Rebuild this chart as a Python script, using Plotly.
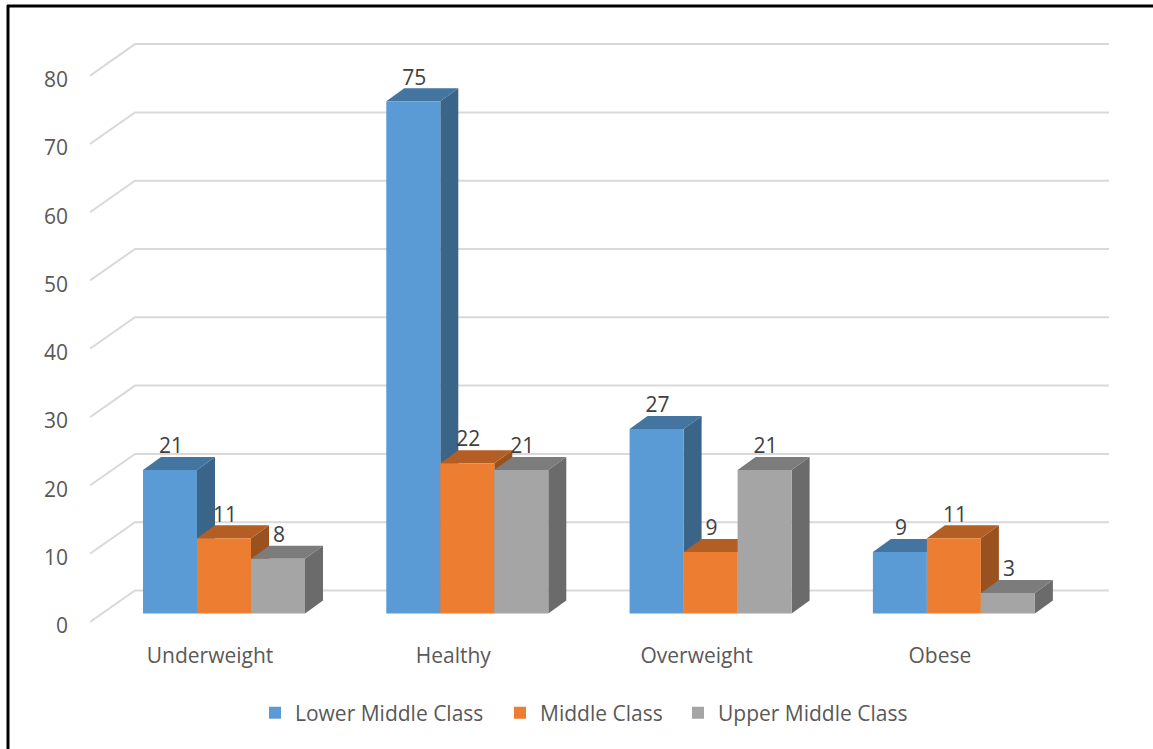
import plotly.graph_objects as go

categories = ["Underweight", "Healthy", "Overweight", "Obese"]
series_names = ["Lower Middle Class", "Middle Class", "Upper Middle Class"]
lower_middle = [21, 75, 27, 9]
middle = [11, 22, 9, 11]
upper_middle = [8, 21, 21, 3]
value_ticks = [0, 10, 20, 30, 40, 50, 60, 70, 80]

series_values = [lower_middle, middle, upper_middle]
front_colors = ["#5B9BD5", "#ED7D31", "#A5A5A5"]
top_colors = ["#4474A0", "#B25E25", "#7C7C7C"]
side_colors = ["#3A6488", "#9A5120", "#6B6B6B"]

TEXT = "#595959"
FONT = "Open Sans"
FS = 21
W, H = 1153, 749
L, B = 90, 107
PX_X = 243.3      # pixels per category
PX_Y = 6.83       # pixels per value unit
X0_PX = 224       # pixel of first category centre
BAR_BASE_PX = 613.5
WALL_FRONT_PX = 622
WALL_BACK_PX = 590.5
PLOT_BOTTOM = H - B
LEGEND_X_PX = [255, 500, 678]

x_range = [(L - X0_PX) / PX_X, (W - X0_PX) / PX_X]
bar_y_range = [(BAR_BASE_PX - PLOT_BOTTOM) / PX_Y, BAR_BASE_PX / PX_Y]
wall_y_range = [(WALL_FRONT_PX - PLOT_BOTTOM) / PX_Y, WALL_FRONT_PX / PX_Y]

BAR_W = 54 / PX_X
DX = 18 / PX_X
DY = 13 / PX_Y
LABEL_LIFT = 22 / PX_Y
back_x = (135 - X0_PX) / PX_X
end_x = (1109 - X0_PX) / PX_X
wall_rise = (WALL_FRONT_PX - WALL_BACK_PX) / PX_Y

fig = go.Figure()

# Back wall: gridlines with their diagonal on the side wall
gx, gy = [], []
for t in value_ticks:
    gx += [x_range[0], back_x, end_x, None]
    gy += [t, t + wall_rise, t + wall_rise, None]
fig.add_trace(go.Scatter(x=gx, y=gy, mode="lines", showlegend=False, hoverinfo="skip",
                         line=dict(color="#D9D9D9", width=2), yaxis="y", xaxis="x"))

# Top and side faces of the bars, behind all fronts
for s, vals in enumerate(series_values):
    for i, v in enumerate(vals):
        left = i + (s - 1.5) * BAR_W
        right = left + BAR_W
        fig.add_trace(go.Scatter(
            x=[right, right + DX, right + DX, right, right],
            y=[0, DY, v + DY, v, 0], mode="lines", fill="toself",
            fillcolor=side_colors[s], line=dict(width=0), showlegend=False,
            hoverinfo="skip", yaxis="y2"))
        fig.add_trace(go.Scatter(
            x=[left, left + DX, right + DX, right, left],
            y=[v, v + DY, v + DY, v, v], mode="lines", fill="toself",
            fillcolor=top_colors[s], line=dict(width=0), showlegend=False,
            hoverinfo="skip", yaxis="y2"))

# Front faces, one positioned legend per series
legend_ids = ["legend", "legend2", "legend3"]
for s, vals in enumerate(series_values):
    fig.add_trace(go.Bar(x=list(range(len(categories))), y=vals, name=series_names[s],
                         marker=dict(color=front_colors[s], line=dict(width=0)), yaxis="y3",
                         legend=legend_ids[s], showlegend=True))

# Data labels
for s, vals in enumerate(series_values):
    fig.add_trace(go.Scatter(
        x=[i + (s - 1) * BAR_W + 1 / PX_X for i in range(len(vals))],
        y=[v + LABEL_LIFT for v in vals], text=[str(v) for v in vals],
        mode="text", textposition="middle center",
        textfont=dict(family=FONT, size=FS, color="#404040"),
        showlegend=False, hoverinfo="skip", yaxis="y3", cliponaxis=False))

legends = {
    legend_ids[s]: dict(orientation="h", x=(LEGEND_X_PX[s] - L) / (W - L), xanchor="left",
                        y=(PLOT_BOTTOM - 713) / PLOT_BOTTOM, yanchor="middle",
                        font=dict(family=FONT, size=FS, color=TEXT), bgcolor="rgba(0,0,0,0)")
    for s in range(3)
}

fig.update_layout(
    width=W, height=H, paper_bgcolor="white", plot_bgcolor="white",
    margin=dict(l=L, r=0, t=0, b=B, autoexpand=False),
    barmode="group", bargap=1 - 3 * BAR_W, bargroupgap=0,
    font=dict(family=FONT, size=FS, color=TEXT),
    xaxis=dict(range=x_range, tickmode="array",
               tickvals=[i - 14 / PX_X for i in range(len(categories))], ticktext=categories,
               showgrid=False, zeroline=False, showline=False, ticks="", ticklabelstandoff=-1,
               tickfont=dict(family=FONT, size=FS, color=TEXT)),
    yaxis=dict(range=wall_y_range, tickmode="array", tickvals=value_ticks,
               showgrid=False, zeroline=False, showline=False, ticks="", ticklabelstandoff=21,
               ticklabelshift=4,
               tickfont=dict(family=FONT, size=FS, color=TEXT)),
    yaxis2=dict(range=bar_y_range, overlaying="y", visible=False),
    yaxis3=dict(range=bar_y_range, overlaying="y", visible=False),
    shapes=[
        dict(type="line", xref="paper", yref="paper",
             x0=(8 - L) / (W - L), x1=(8 - L) / (W - L), y0=(PLOT_BOTTOM - 749) / PLOT_BOTTOM,
             y1=(PLOT_BOTTOM - 5) / PLOT_BOTTOM, line=dict(color="#000000", width=3)),
        dict(type="line", xref="paper", yref="paper",
             x0=(7 - L) / (W - L), x1=1, y0=(PLOT_BOTTOM - 6) / PLOT_BOTTOM,
             y1=(PLOT_BOTTOM - 6) / PLOT_BOTTOM, line=dict(color="#000000", width=3)),
    ],
    **legends,
)
fig.write_html("out.html", config={"displayModeBar": False},
               post_script="document.body.style.margin='0';document.body.style.overflow='hidden';")
